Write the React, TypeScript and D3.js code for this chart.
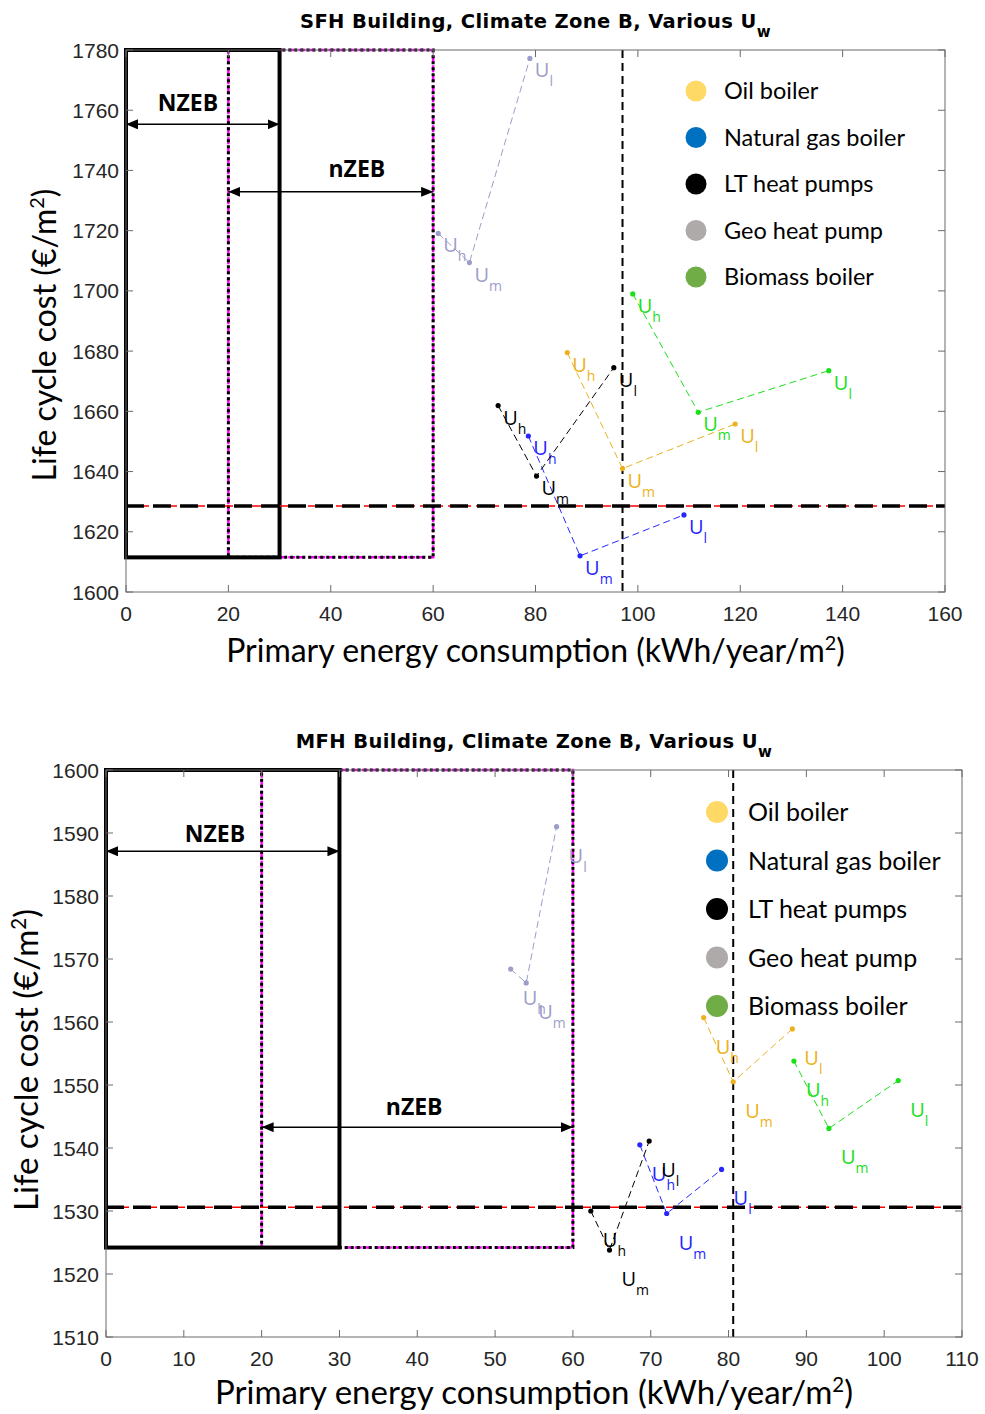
import * as d3 from 'd3';

// legend / series order
const seriesNames = ['Oil boiler', 'Natural gas boiler', 'LT heat pumps', 'Geo heat pump', 'Biomass boiler'];
// window U-value variants, in drawing order along each line
const uLevels = ['h', 'm', 'l'];

// SFH building (top chart): primary energy [kWh/year/m2] and life cycle cost [€/m2]
const sfhEnergy = [
  [86.2, 97.0, 119.0],
  [78.6, 88.7, 109.0],
  [72.7, 80.2, 95.3],
  [61.0, 67.1, 78.9],
  [99.0, 111.8, 137.3],
];
const sfhCost = [
  [1679.5, 1641.0, 1655.8],
  [1651.8, 1612.0, 1625.6],
  [1661.9, 1638.5, 1674.5],
  [1719.1, 1709.4, 1777.2],
  [1699.0, 1659.7, 1673.5],
];
const sfhXTicks = [0, 20, 40, 60, 80, 100, 120, 140, 160];
const sfhYTicks = [1600, 1620, 1640, 1660, 1680, 1700, 1720, 1740, 1760, 1780];
const sfhRef = [97.0, 1628.6]; // reference energy, reference cost
const sfhBoxFloor = 1611.5;
const sfhArrowLevels = [1755.3, 1732.9]; // NZEB, nZEB
const sfhTagSpots = [[12.1, 1759.7], [45.1, 1737.9]];

// MFH building (bottom chart)
const mfhEnergy = [
  [76.8, 80.6, 88.2],
  [68.6, 72.05, 79.1],
  [62.3, 64.7, 69.8],
  [52.0, 54.0, 57.9],
  [88.4, 92.9, 101.8],
];
const mfhCost = [
  [1560.7, 1550.5, 1558.9],
  [1540.5, 1529.6, 1536.6],
  [1530.0, 1523.8, 1541.1],
  [1568.4, 1566.2, 1591.0],
  [1553.8, 1543.1, 1550.7],
];
const mfhXTicks = [0, 10, 20, 30, 40, 50, 60, 70, 80, 90, 100, 110];
const mfhYTicks = [1510, 1520, 1530, 1540, 1550, 1560, 1570, 1580, 1590, 1600];
const mfhRef = [80.6, 1530.6];
const mfhBoxFloor = 1524.2;
const mfhArrowLevels = [1587.1, 1543.3];
const mfhTagSpots = [[14.0, 1588.6], [39.6, 1545.2]];

const nzebRange = [0, 30];
const nZebRange = [20, 60];
const zoneTags = ['NZEB', 'nZEB'];

// styling
const lineColors = ['#EDB120', '#2626ff', '#000000', '#9d9dc9', '#19e019'];
const legendColors = ['#FFD966', '#0070C0', '#000000', '#AEAAAA', '#70AD47'];
const tickFont = '"Liberation Sans", Arial, sans-serif';
const titleFont = '"DejaVu Sans", Arial, sans-serif';
const textFont = 'Lato, "Open Sans", sans-serif';
const axisGray = '#262626';

type PanelProps = {
  id: string;
  title: string;
  energy: number[][];
  cost: number[][];
  xTicks: number[];
  yTicks: number[];
  refLine: number[];
  boxFloor: number;
  arrowLevels: number[];
  tagSpots: number[][];
  box: { left: number; right: number; top: number; bottom: number };
  legend: { cx: number; cy: number; step: number; r: number; fs: number; gap: number };
  labelOffset: [number, number];
  titleY: number;
  yLabelX: number;
  yLabelY: number;
  xLabelY: number;
  labelSize: number;
};

function Panel(p: PanelProps) {
  const { box } = p;
  const x = d3
    .scaleLinear()
    .domain([p.xTicks[0], p.xTicks[p.xTicks.length - 1]])
    .range([box.left, box.right]);
  const y = d3
    .scaleLinear()
    .domain([p.yTicks[0], p.yTicks[p.yTicks.length - 1]])
    .range([box.bottom, box.top]);
  const yTop = p.yTicks[p.yTicks.length - 1];

  const line = d3
    .line<number[]>()
    .x((d) => x(d[0]))
    .y((d) => y(d[1]));

  const midX = (box.left + box.right) / 2;
  const tick = 7;
  const sup = p.labelSize * 0.36;

  const rectOf = (r: number[]) => ({
    x: x(r[0]),
    y: y(yTop),
    width: x(r[1]) - x(r[0]),
    height: y(p.boxFloor) - y(yTop),
  });

  return (
    <g>
      <defs>
        <marker
          id={`${p.id}-head`}
          viewBox="0 0 12 10"
          refX="12"
          refY="5"
          markerWidth="12"
          markerHeight="10"
          markerUnits="userSpaceOnUse"
          orient="auto-start-reverse"
        >
          <path d="M0,0 L12,5 L0,10 Z" fill="#000" />
        </marker>
      </defs>

      {/* zone boxes */}
      <rect {...rectOf(nzebRange)} fill="none" stroke="#ff0000" strokeWidth={1.5} strokeDasharray="8,5" />
      <rect {...rectOf(nZebRange)} fill="none" stroke="#ff00ff" strokeWidth={2.5} strokeDasharray="7,3" />
      <rect {...rectOf(nzebRange)} fill="none" stroke="#000" strokeWidth={4} />
      <rect {...rectOf(nZebRange)} fill="none" stroke="#000" strokeWidth={3} strokeDasharray="3,3" />

      {/* zone arrows */}
      {[nzebRange, nZebRange].map((r, i) => (
        <g key={`arr${i}`}>
          <line
            x1={x(r[0])}
            x2={x(r[1])}
            y1={y(p.arrowLevels[i])}
            y2={y(p.arrowLevels[i])}
            stroke="#000"
            strokeWidth={1.5}
            markerStart={`url(#${p.id}-head)`}
            markerEnd={`url(#${p.id}-head)`}
          />
          <text
            x={x(p.tagSpots[i][0])}
            y={y(p.tagSpots[i][1])}
            textAnchor="middle"
            fontFamily='"Open Sans", sans-serif'
            fontWeight="bold"
            fontSize={23}
          >
            {zoneTags[i]}
          </text>
        </g>
      ))}

      {/* reference lines */}
      <line x1={box.left} x2={box.right} y1={y(p.refLine[1])} y2={y(p.refLine[1])} stroke="#ff0000" strokeWidth={1.5} strokeDasharray="9,5" />
      <line x1={box.left} x2={box.right} y1={y(p.refLine[1])} y2={y(p.refLine[1])} stroke="#000" strokeWidth={3.5} strokeDasharray="18,9" />
      <line x1={x(p.refLine[0])} x2={x(p.refLine[0])} y1={box.top} y2={box.bottom} stroke="#000" strokeWidth={2} strokeDasharray="8,5" />

      {/* series */}
      {p.energy.map((es, si) => {
        const pts = es.map((e, k) => [e, p.cost[si][k]]);
        const c = lineColors[si];
        return (
          <g key={`s${si}`}>
            <path d={line(pts) || ''} fill="none" stroke={c} strokeWidth={1} strokeDasharray="7,4" />
            {pts.map((d, k) => (
              <circle key={k} cx={x(d[0])} cy={y(d[1])} r={2.6} fill={c} />
            ))}
            {pts.map((d, k) => (
              <text
                key={`t${k}`}
                x={x(d[0]) + p.labelOffset[0]}
                y={y(d[1]) + p.labelOffset[1]}
                fill={c}
                fontFamily='"Open Sans", sans-serif'
                fontSize={20}
              >
                U
                <tspan dy={9} fontSize={14}>
                  {uLevels[k]}
                </tspan>
              </text>
            ))}
          </g>
        );
      })}

      {/* axes frame and ticks */}
      <rect x={box.left} y={box.top} width={box.right - box.left} height={box.bottom - box.top} fill="none" stroke="#6b6b6b" strokeWidth={1} />
      {p.xTicks.map((t) => (
        <g key={`xt${t}`}>
          <line x1={x(t)} x2={x(t)} y1={box.bottom} y2={box.bottom - tick} stroke="#6b6b6b" />
          <line x1={x(t)} x2={x(t)} y1={box.top} y2={box.top + tick} stroke="#6b6b6b" />
          <text x={x(t)} y={box.bottom + 29} textAnchor="middle" fontFamily={tickFont} fontSize={21} fill={axisGray}>
            {t}
          </text>
        </g>
      ))}
      {p.yTicks.map((t) => (
        <g key={`yt${t}`}>
          <line x1={box.left} x2={box.left + tick} y1={y(t)} y2={y(t)} stroke="#6b6b6b" />
          <line x1={box.right} x2={box.right - tick} y1={y(t)} y2={y(t)} stroke="#6b6b6b" />
          <text x={box.left - 7} y={y(t) + 7.5} textAnchor="end" fontFamily={tickFont} fontSize={21} fill={axisGray}>
            {t}
          </text>
        </g>
      ))}

      {/* legend */}
      {seriesNames.map((n, i) => (
        <g key={`lg${i}`}>
          <circle cx={p.legend.cx} cy={p.legend.cy + i * p.legend.step} r={p.legend.r} fill={legendColors[i]} />
          <text
            x={p.legend.cx + p.legend.gap}
            y={p.legend.cy + i * p.legend.step + p.legend.fs * 0.36}
            fontFamily={textFont}
            fontSize={p.legend.fs}
            fill="#000"
          >
            {n}
          </text>
        </g>
      ))}

      {/* titles */}
      <text x={midX} y={p.titleY} textAnchor="middle" fontFamily={titleFont} fontWeight="bold" fontSize={19.5} letterSpacing={0.4} fill="#000">
        {p.title}
        <tspan dy={9} fontSize={15}>
          w
        </tspan>
      </text>
      <text x={midX} y={p.xLabelY} textAnchor="middle" fontFamily={textFont} fontSize={p.labelSize} fill="#000">
        Primary energy consumption (kWh/year/m
        <tspan dy={-sup} fontSize={p.labelSize * 0.62}>
          2
        </tspan>
        <tspan dy={sup}>)</tspan>
      </text>
      <text
        transform={`translate(${p.yLabelX},${p.yLabelY}) rotate(-90)`}
        textAnchor="middle"
        fontFamily={textFont}
        fontSize={p.labelSize}
        fill="#000"
      >
        Life cycle cost (€/m
        <tspan dy={-sup} fontSize={p.labelSize * 0.62}>
          2
        </tspan>
        <tspan dy={sup}>)</tspan>
      </text>
    </g>
  );
}

export default function App() {
  return (
    <svg
      width={985}
      height={1414}
      style={{ position: 'absolute', left: 0, top: 0, background: '#fff' }}
    >
      <Panel
        id="sfh"
        title="SFH Building, Climate Zone B, Various U"
        energy={sfhEnergy}
        cost={sfhCost}
        xTicks={sfhXTicks}
        yTicks={sfhYTicks}
        refLine={sfhRef}
        boxFloor={sfhBoxFloor}
        arrowLevels={sfhArrowLevels}
        tagSpots={sfhTagSpots}
        box={{ left: 126, right: 945, top: 50, bottom: 592 }}
        legend={{ cx: 696, cy: 91, step: 46.5, r: 10.5, fs: 23.5, gap: 28 }}
        labelOffset={[5, 19]}
        titleY={28}
        yLabelX={56}
        yLabelY={335}
        xLabelY={662}
        labelSize={32}
      />
      <Panel
        id="mfh"
        title="MFH Building, Climate Zone B, Various U"
        energy={mfhEnergy}
        cost={mfhCost}
        xTicks={mfhXTicks}
        yTicks={mfhYTicks}
        refLine={mfhRef}
        boxFloor={mfhBoxFloor}
        arrowLevels={mfhArrowLevels}
        tagSpots={mfhTagSpots}
        box={{ left: 106, right: 962, top: 770, bottom: 1337 }}
        legend={{ cx: 717, cy: 812, step: 48.5, r: 11, fs: 25, gap: 31 }}
        labelOffset={[12, 36]}
        titleY={748}
        yLabelX={38}
        yLabelY={1060}
        xLabelY={1404}
        labelSize={33}
      />
    </svg>
  );
}
